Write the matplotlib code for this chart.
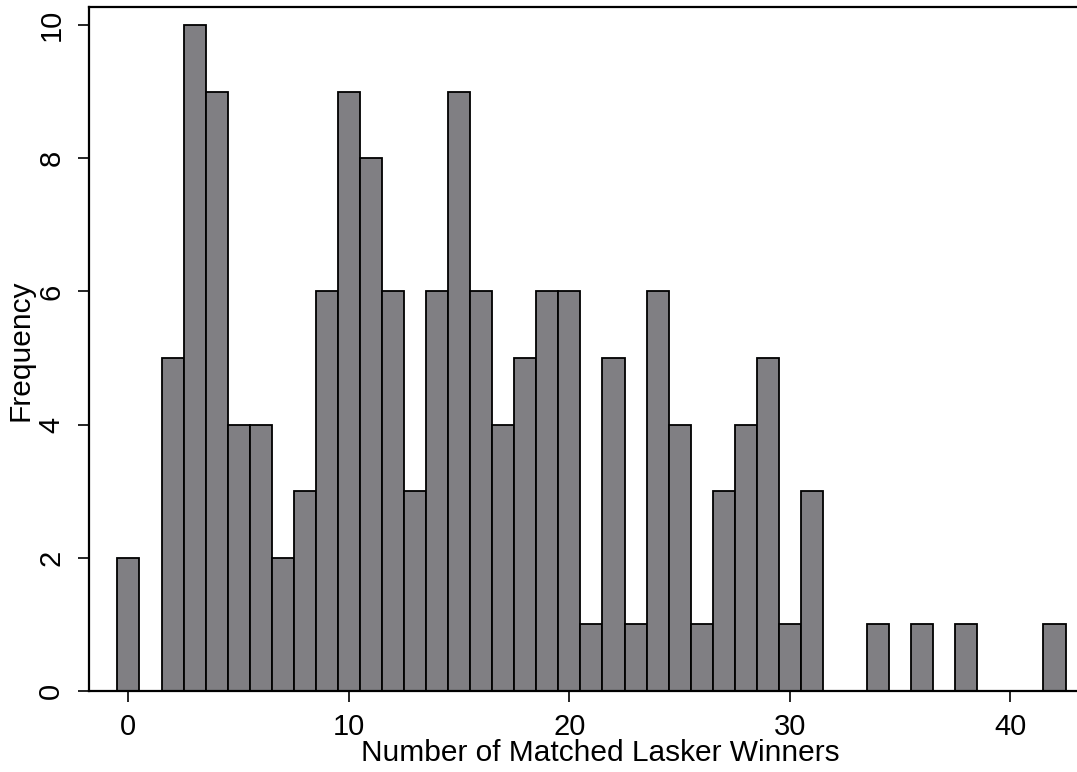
import matplotlib.pyplot as plt

# number of matched Lasker winners (integer bins) and how often each occurs
winners = list(range(0, 43))
freq = [2, 0, 5, 10, 9, 4, 4, 2, 3, 6,
        9, 8, 6, 3, 6, 9, 6, 4, 5, 6,
        6, 1, 5, 1, 6, 4, 1, 3, 4, 5,
        1, 3, 0, 0, 1, 0, 1, 0, 1, 0,
        0, 0, 1]
xticks = [0, 10, 20, 30, 40]
yticks = [0, 2, 4, 6, 8, 10]

plt.rcParams['font.family'] = ['Liberation Sans', 'DejaVu Sans']

fig = plt.figure(figsize=(10.77, 7.72), dpi=100)
ax = fig.add_axes([0.0826, 0.1049, 0.9184, 0.886])

ax.bar(winners, freq, width=1.0, color='#807f83', edgecolor='black', linewidth=1.3)

ax.set_xlim(-1.79, 43.07)
ax.set_ylim(0, 10.27)
ax.set_xticks(xticks)
ax.set_yticks(yticks)
ax.tick_params(axis='x', length=8, width=1.2, pad=8, labelsize=21)
ax.tick_params(axis='y', length=8, width=1.2, pad=9, labelsize=21, labelrotation=90)
for lbl in ax.get_yticklabels():
    lbl.set_va('center')

ax.spines['right'].set_visible(False)
for s in ['left', 'top', 'bottom']:
    ax.spines[s].set_linewidth(1.6)

ax.set_xlabel('Number of Matched Lasker Winners', fontsize=21.5, va='center')
ax.xaxis.set_label_coords(0.517, -0.0905)
ax.set_ylabel('Frequency', fontsize=21.5, va='center')
ax.yaxis.set_label_coords(-0.069, 0.4985)

plt.savefig('out.png', dpi=100)
